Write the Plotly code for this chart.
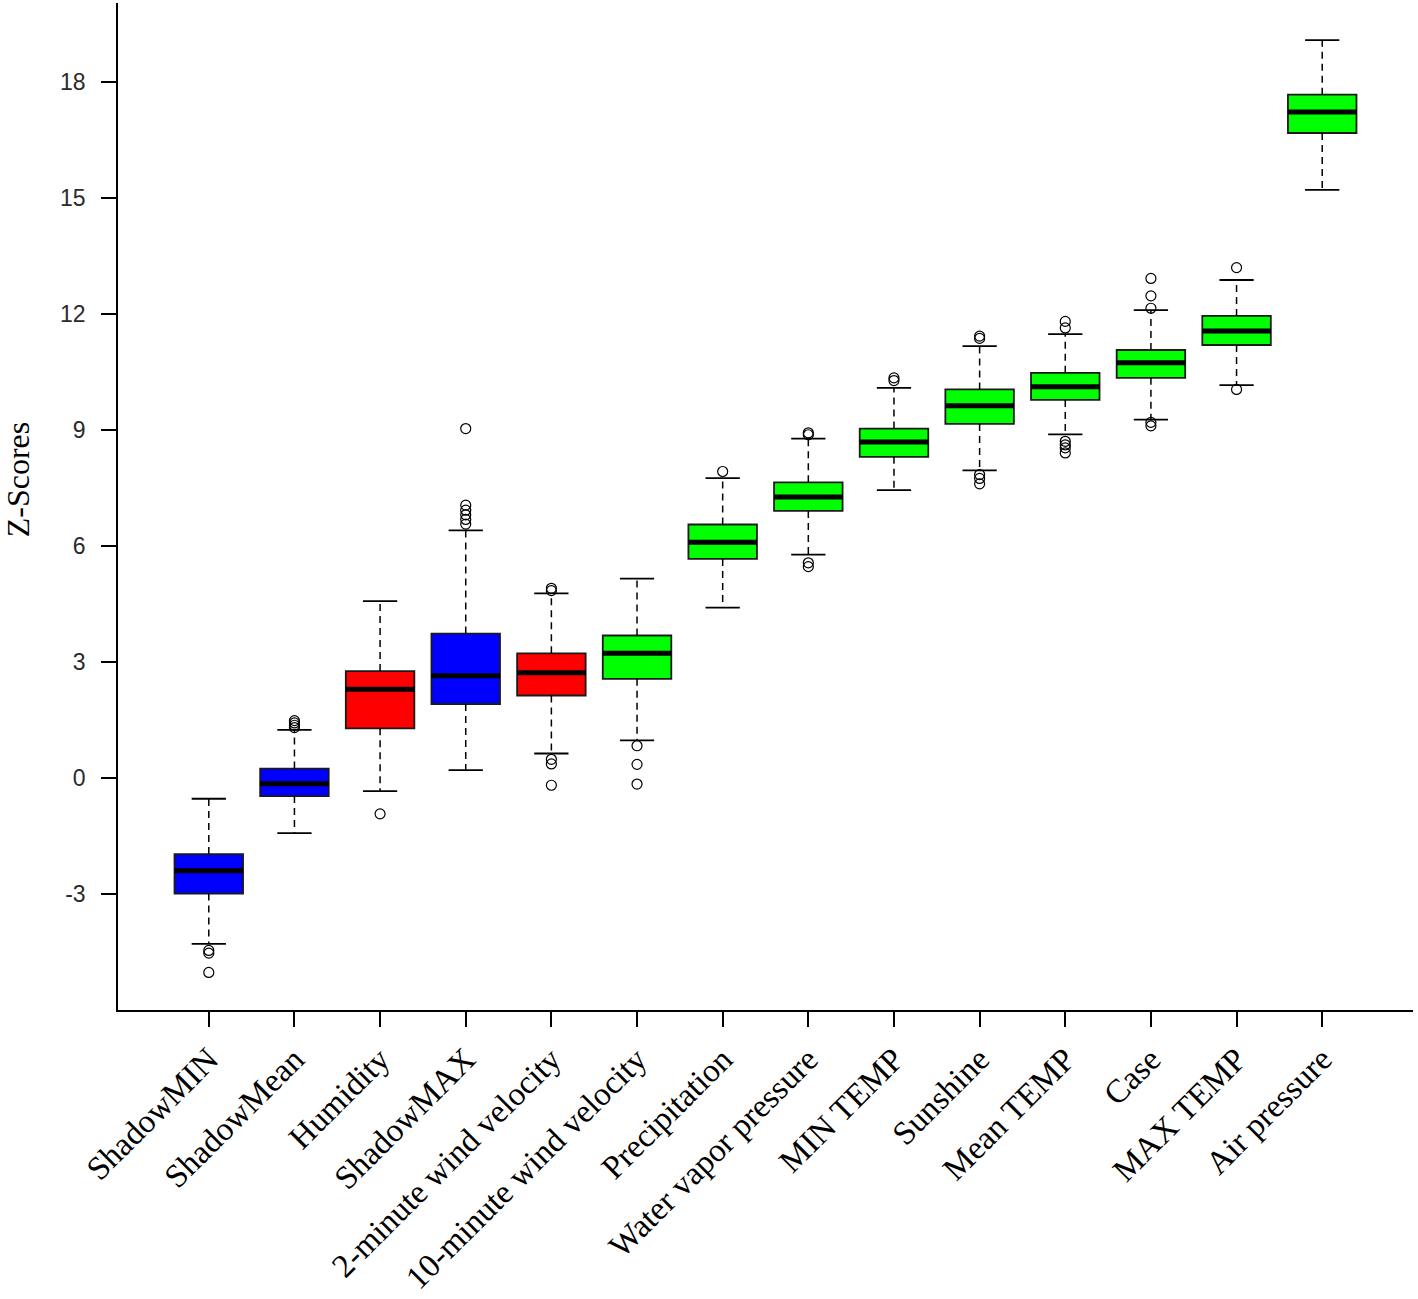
import plotly.graph_objects as go

categories = ["ShadowMIN", "ShadowMean", "Humidity", "ShadowMAX",
              "2-minute wind velocity", "10-minute wind velocity", "Precipitation",
              "Water vapor pressure", "MIN TEMP", "Sunshine", "Mean TEMP", "Case",
              "MAX TEMP", "Air pressure"]
colors = ["#0000FF", "#0000FF", "#FF0000", "#0000FF", "#FF0000", "#00FF00", "#00FF00",
          "#00FF00", "#00FF00", "#00FF00", "#00FF00", "#00FF00", "#00FF00", "#00FF00"]
lower_whisker = [-4.29, -1.43, -0.34, 0.20, 0.63, 0.97, 4.40, 5.77, 7.44, 7.95, 8.88, 9.26, 10.15, 15.20]
q1 = [-2.99, -0.47, 1.28, 1.91, 2.13, 2.56, 5.66, 6.90, 8.30, 9.15, 9.77, 10.34, 11.19, 16.67]
median = [-2.40, -0.15, 2.29, 2.64, 2.72, 3.22, 6.09, 7.26, 8.68, 9.62, 10.11, 10.73, 11.55, 17.21]
q3 = [-1.97, 0.24, 2.76, 3.73, 3.22, 3.68, 6.55, 7.64, 9.03, 10.04, 10.47, 11.06, 11.94, 17.66]
upper_whisker = [-0.54, 1.24, 4.57, 6.40, 4.77, 5.15, 7.75, 8.77, 10.08, 11.16, 11.47, 12.09, 12.87, 19.07]
outliers = [
    [-4.46, -4.53, -5.03],
    [1.30, 1.36, 1.42, 1.48],
    [-0.93],
    [9.03, 7.05, 6.92, 6.80, 6.68, 6.56],
    [4.90, 4.84, 0.48, 0.36, -0.19],
    [0.83, 0.35, -0.16],
    [7.92],
    [8.92, 8.87, 5.56, 5.46],
    [10.34, 10.27],
    [11.42, 11.36, 7.84, 7.74, 7.60],
    [11.80, 11.63, 8.70, 8.61, 8.53, 8.40],
    [12.91, 12.46, 12.14, 9.19, 9.10],
    [13.19, 10.04],
    [],
]
y_ticks = [-3, 0, 3, 6, 9, 12, 15, 18]
y_title = "Z-Scores"

positions = list(range(1, len(categories) + 1))
BOX_W = 0.8
CAP_HALF = 0.2
MED_HALF = 0.4

fig = go.Figure()

# Whiskers (dashed)
wx, wy = [], []
for p, lo, a, b, hi in zip(positions, lower_whisker, q1, q3, upper_whisker):
    wx += [p, p, None, p, p, None]
    wy += [b, hi, None, a, lo, None]
fig.add_trace(go.Scatter(x=wx, y=wy, mode="lines",
                         line=dict(color="black", width=1.5, dash="7px,5px"),
                         hoverinfo="skip", showlegend=False))

# Caps (solid)
cx, cy = [], []
for p, lo, hi in zip(positions, lower_whisker, upper_whisker):
    cx += [p - CAP_HALF, p + CAP_HALF, None, p - CAP_HALF, p + CAP_HALF, None]
    cy += [hi, hi, None, lo, lo, None]
fig.add_trace(go.Scatter(x=cx, y=cy, mode="lines",
                         line=dict(color="black", width=1.8),
                         hoverinfo="skip", showlegend=False))

# Boxes grouped by colour
for col in ["#0000FF", "#FF0000", "#00FF00"]:
    idx = [i for i, c in enumerate(colors) if c == col]
    fig.add_trace(go.Box(
        x=[positions[i] for i in idx],
        q1=[q1[i] for i in idx],
        median=[median[i] for i in idx],
        q3=[q3[i] for i in idx],
        lowerfence=[q1[i] for i in idx],
        upperfence=[q3[i] for i in idx],
        fillcolor=col, line=dict(color="#1a1a1a", width=1.8),
        width=BOX_W, boxpoints=False, whiskerwidth=0,
        hoverinfo="skip", showlegend=False))

# Thick medians
mx, my = [], []
for p, m in zip(positions, median):
    mx += [p - MED_HALF, p + MED_HALF, None]
    my += [m, m, None]
fig.add_trace(go.Scatter(x=mx, y=my, mode="lines",
                         line=dict(color="black", width=5),
                         hoverinfo="skip", showlegend=False))

# Outliers
ox, oy = [], []
for p, vals in zip(positions, outliers):
    for v in vals:
        ox.append(p)
        oy.append(v)
fig.add_trace(go.Scatter(x=ox, y=oy, mode="markers",
                         marker=dict(symbol="circle-open", size=10, color="black",
                                     line=dict(width=1.2)),
                         hoverinfo="skip", showlegend=False))

fig.add_annotation(text=y_title, xref="paper", yref="paper", x=0, y=0.527,
                   xanchor="center", yanchor="middle", xshift=-100, textangle=-90,
                   showarrow=False,
                   font=dict(family="Liberation Serif", size=32, color="black"))

fig.update_layout(
    width=1418, height=1299,
    margin=dict(l=118, r=5, t=3, b=289, autoexpand=False),
    plot_bgcolor="white", paper_bgcolor="white",
    boxmode="overlay",
    xaxis=dict(range=[-0.06, 15.06], tickmode="array", tickvals=positions,
               ticktext=categories, tickangle=-45, ticks="outside", ticklen=15,
               tickwidth=1.5, tickcolor="black", showline=True, linecolor="black",
               linewidth=1.5, showgrid=False, zeroline=False, automargin=False,
               tickfont=dict(family="Liberation Serif", size=33, color="black")),
    yaxis=dict(range=[-6.0, 20.03], tickmode="array", tickvals=y_ticks,
               ticktext=[str(t) for t in y_ticks],
               ticks="outside", ticklen=15, tickwidth=1.5, tickcolor="black",
               showline=True, linecolor="black", linewidth=1.5,
               showgrid=False, zeroline=False, automargin=False,
               ticklabelstandoff=11,
               tickfont=dict(family="Liberation Sans", size=23, color="#2a2a2a")),
)

fig.write_html("out.html", config={"displayModeBar": False},
               post_script="document.body.style.margin='0';document.body.style.overflow='hidden';")
